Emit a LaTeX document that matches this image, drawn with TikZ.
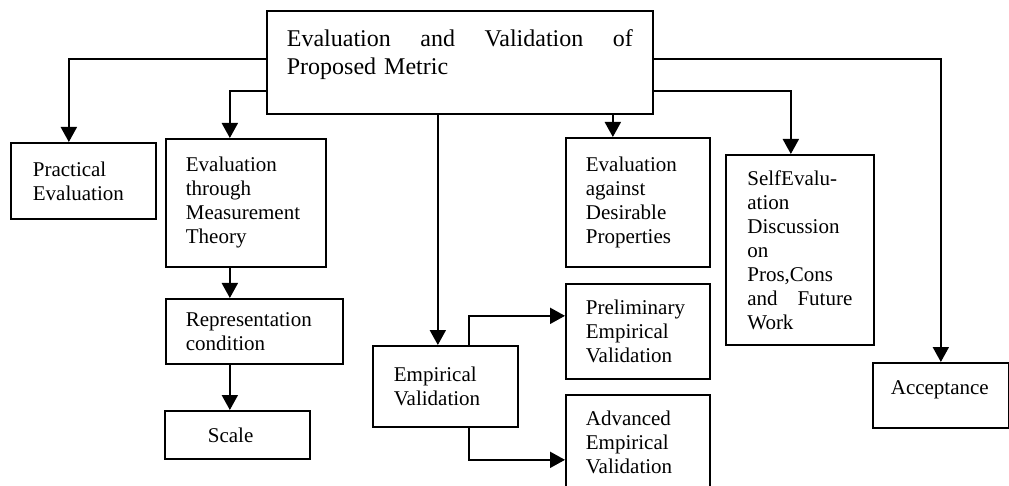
\documentclass[tikz,border=0pt]{standalone}
\usepackage{fontspec}
\setmainfont{Liberation Serif}
\usetikzlibrary{arrows.meta}

\begin{document}
\begin{tikzpicture}[x=1pt,y=-1pt,
  blk/.style={draw, line width=1.7pt, anchor=north west, inner sep=0pt, align=left, font=\fontsize{21}{24}\selectfont},
  conn/.style={line width=2pt, -{Triangle[width=16pt,length=15pt]}}]
\useasboundingbox (0,0) rectangle (1009,486);

% main box
\node[blk, minimum width=386, minimum height=103, text width=346pt, text depth=49pt, font=\fontsize{24}{28}\selectfont] (top) at (266,10) {Evaluation\hfill and\hfill Validation\hfill of\\Proposed Metric};

% first row
\node[blk, minimum width=145, minimum height=76, text width=101pt] (prac) at (10,142) {Practical\\Evaluation};
\node[blk, minimum width=160, minimum height=128, text width=120pt] (meas) at (165,138) {Evaluation\\through\\Measurement\\Theory};
\node[blk, minimum width=144, minimum height=129, text width=104pt] (des) at (565,137) {Evaluation\\against\\Desirable\\Properties};
\node[blk, minimum width=148, minimum height=190, text width=105pt] (self) at (725,154) {SelfEvalu-\\ation\\Discussion\\on\\Pros,Cons\\and\hfill Future\\Work};

% lower boxes
\node[blk, minimum width=177, minimum height=65, text width=137pt] (repr) at (165,298) {Representation\\condition};
\node[blk, minimum width=145, minimum height=48, text width=59pt] (scale) at (164,410) {Scale};
\node[blk, minimum width=145, minimum height=81, text width=103pt] (emp) at (372,345) {Empirical\\Validation};
\node[blk, minimum width=144, minimum height=95, text width=104pt] (pre) at (565,283) {Preliminary\\Empirical\\Validation};
\node[blk, minimum width=144, minimum height=96, text width=104pt] (adv) at (565,394) {Advanced\\Empirical\\Validation};
\node[blk, minimum width=136, minimum height=65, text width=100pt, text depth=16pt] (acc) at (872,362) {Acceptance};

% from main box
\draw[conn] ([yshift=3.5pt]top.west) -| ([xshift=-14.5pt]prac.north);
\draw[conn] ([yshift=-28.5pt]top.west) -| ([xshift=-16pt]meas.north);
\draw[conn] ([xshift=-7.5pt]emp.north |- top.south) -- ([xshift=-7.5pt]emp.north);
\draw[conn] ([xshift=-25pt]des.north |- top.south) -- ([xshift=-25pt]des.north);
\draw[conn] ([yshift=-28.5pt]top.east) -| ([xshift=-9pt]self.north);
\draw[conn] ([yshift=3.5pt]top.east) -| (acc.north);

% measurement theory chain
\draw[conn] ([xshift=-16pt]meas.south) -- ([xshift=-16pt]meas.south |- repr.north);
\draw[conn] ([xshift=-16pt]meas.south |- repr.south) -- ([xshift=-16pt]meas.south |- scale.north);

% empirical branches
\draw[conn] ([xshift=23.5pt]emp.north) |- ([yshift=15.5pt]pre.west);
\draw[conn] ([xshift=23.5pt]emp.south) |- ([yshift=-17pt]adv.west);

\end{tikzpicture}
\end{document}
